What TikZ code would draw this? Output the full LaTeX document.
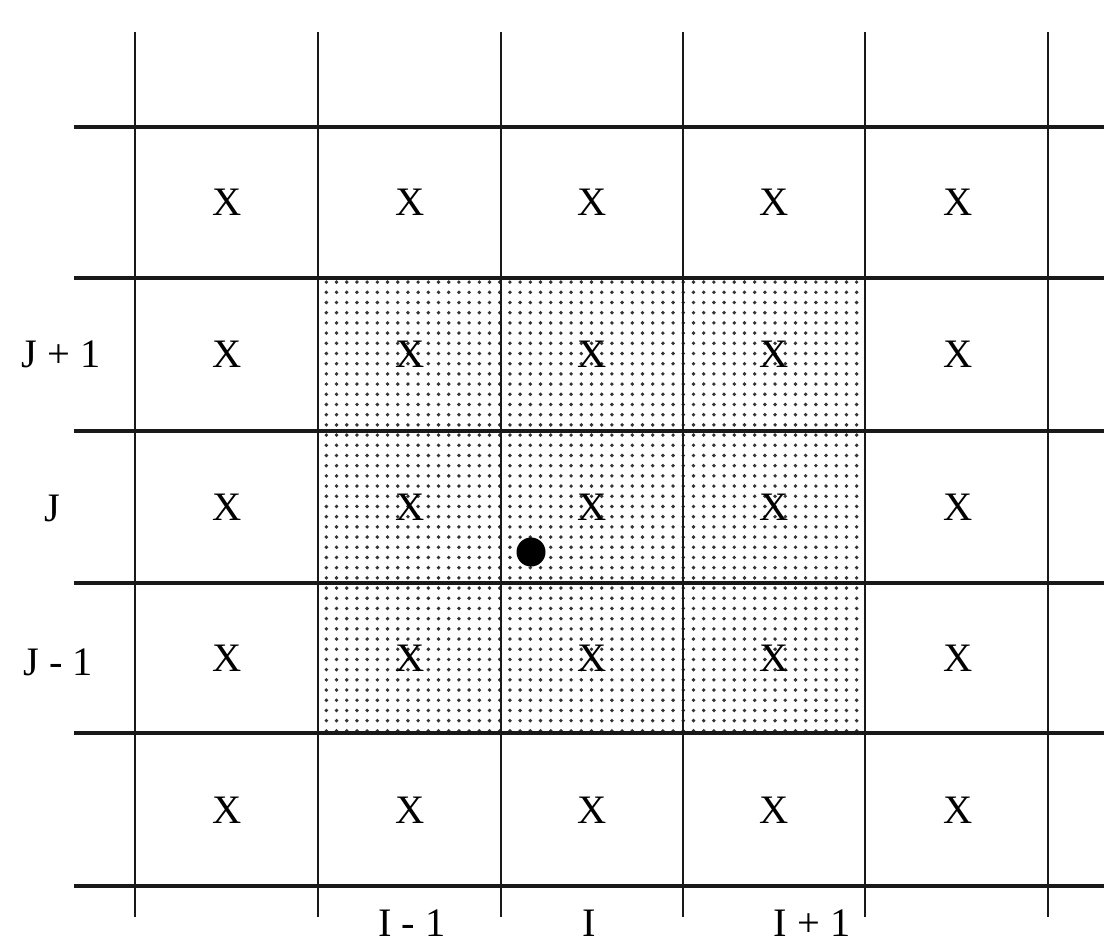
\documentclass[tikz,border=0pt]{standalone}
\usepackage{fontspec}
\setmainfont{Liberation Serif}
\usetikzlibrary{patterns}

\pgfdeclarepatternformonly{gridDots}{\pgfqpoint{-1pt}{-1pt}}{\pgfqpoint{1pt}{1pt}}{\pgfqpoint{2.9pt}{2.9pt}}%
{\pgfpathcircle{\pgfqpoint{0pt}{0pt}}{.55pt}\pgfusepath{fill}}

\begin{document}
\begin{tikzpicture}[
  x=0.01cm, y=-0.01cm,
  font=\fontsize{11.5}{13}\selectfont,
  rowLine/.style={line width=1.3pt, draw=black!90},
  colLine/.style={line width=0.8pt, draw=black!90},
  cellMark/.style={inner sep=0pt, outer sep=0pt},
  indexLabel/.style={inner sep=0pt, outer sep=0pt},
  stencilBlock/.style={pattern=gridDots, pattern color=black!80},
  bigDot/.style={circle, fill=black, inner sep=0pt, minimum size=0.29cm}
]
\useasboundingbox (0,0) rectangle (1104,945);
\clip (0,0) rectangle (1104,945);

% shaded 3x3 neighbourhood
\fill[stencilBlock] (318,278) rectangle (865,733);

% grid lines
\foreach \y in {127,278,431,583,733,886}
  \draw[rowLine] (74,\y) -- (1104,\y);
\foreach \x in {135,318,501,683,865,1048}
  \draw[colLine] (\x,32) -- (\x,917);

% cell centres
\foreach \x [count=\i] in {227,410,592,774,958}
  \foreach \y [count=\j] in {202,354,507,658,810}
    \node[cellMark] (mark\i\j) at (\x,\y) {X};

% row indices
\node[indexLabel] (rowJp) at (61,354) {J + 1};
\node[indexLabel] (rowJ) at (52,508) {J};
\node[indexLabel] (rowJm) at (58,662) {J - 1};

% column indices
\node[indexLabel, anchor=south] (colIm) at (412,936) {I - 1};
\node[indexLabel, anchor=south] (colI) at (589,936) {I};
\node[indexLabel, anchor=south] (colIp) at (812,936) {I + 1};

% interpolation point
\node[bigDot] (point) at (531,552) {};
\end{tikzpicture}
\end{document}
